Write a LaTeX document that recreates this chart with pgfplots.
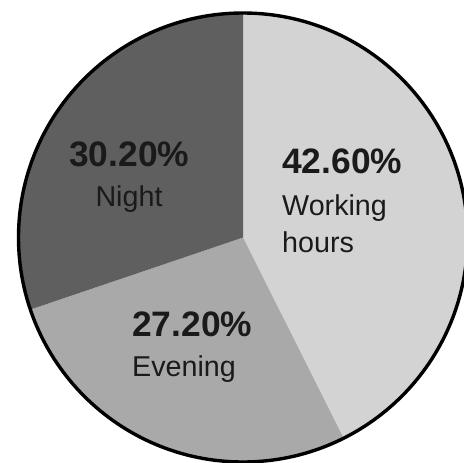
\documentclass[border=0pt]{standalone}
\usepackage{pgfplots}
\pgfplotsset{compat=1.18}
\usepackage{fontspec}
\setmainfont{Liberation Sans}
\definecolor{cWork}{HTML}{D3D3D3}
\definecolor{cEve}{HTML}{A9A9A9}
\definecolor{cNight}{HTML}{5F5F5F}
\definecolor{txt}{HTML}{1A1A1A}
% shares in percent
\def\shareWork{42.6}
\def\shareEve{27.2}
\def\shareNight{30.2}
\def\R{224.5bp}
\begin{document}
\begin{tikzpicture}
\pgfmathsetmacro{\aA}{90}
\pgfmathsetmacro{\aB}{90-3.6*\shareWork}
\pgfmathsetmacro{\aC}{\aB-3.6*\shareEve}
\pgfmathsetmacro{\aD}{\aC-3.6*\shareNight}
\begin{axis}[
  hide axis, scale only axis,
  width=464bp, height=463bp,
  xmin=0, xmax=464, ymin=0, ymax=463,
  y dir=reverse, clip=true,
]
\addplot[draw=none, forget plot] coordinates {(243,237.5)};
\fill[cWork] (axis cs:243,237.5) -- ++(\aA:\R) arc[start angle=\aA, end angle=\aB, radius=\R] -- cycle;
\fill[cEve] (axis cs:243,237.5) -- ++(\aB:\R) arc[start angle=\aB, end angle=\aC, radius=\R] -- cycle;
\fill[cNight] (axis cs:243,237.5) -- ++(\aC:\R) arc[start angle=\aC, end angle=\aD, radius=\R] -- cycle;
\draw[black, line width=3.4bp] (axis cs:243,237.5) circle[radius=\R];
\node[anchor=base west, inner sep=0, text=txt, font=\fontsize{35.5}{40}\selectfont\bfseries] at (axis cs:282,173) {42.60\%};
\node[anchor=base west, inner sep=0, text=txt, font=\fontsize{28.8}{34}\selectfont] at (axis cs:282,215) {Working};
\node[anchor=base west, inner sep=0, text=txt, font=\fontsize{28.8}{34}\selectfont] at (axis cs:282,252) {hours};
\node[anchor=base west, inner sep=0, text=txt, font=\fontsize{35.5}{40}\selectfont\bfseries] at (axis cs:69,166) {30.20\%};
\node[anchor=base, inner sep=0, text=txt, font=\fontsize{28.8}{34}\selectfont] at (axis cs:129,206) {Night};
\node[anchor=base west, inner sep=0, text=txt, font=\fontsize{35.5}{40}\selectfont\bfseries] at (axis cs:132,336) {27.20\%};
\node[anchor=base west, inner sep=0, text=txt, font=\fontsize{28.8}{34}\selectfont] at (axis cs:132,376) {Evening};
\end{axis}
\pgfresetboundingbox
\useasboundingbox (current axis.south west) rectangle (current axis.north east);
\end{tikzpicture}
\end{document}
